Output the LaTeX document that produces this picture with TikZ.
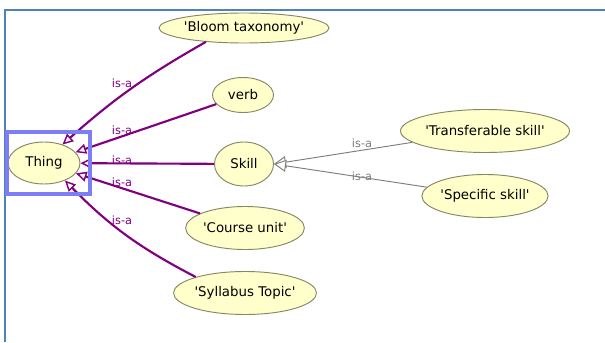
\documentclass[tikz,border=0pt]{standalone}
\usepackage{fontspec}
\setmainfont{DejaVu Sans}[Ligatures=TeXOff]
\usetikzlibrary{shapes.geometric,arrows.meta}
\definecolor{framecol}{RGB}{79,129,189}
\definecolor{nodefill}{RGB}{255,255,204}
\definecolor{nodeline}{RGB}{135,135,100}
\definecolor{isapurple}{RGB}{128,0,128}
\definecolor{isagray}{RGB}{125,125,125}
\definecolor{hlcol}{RGB}{125,125,245}
\tikzset{
  cls/.style={ellipse, draw=nodeline, line width=0.7pt, fill=nodefill, inner sep=0pt, font=\fontsize{10}{12}\selectfont},
  isaedge/.style={draw=isapurple, line width=1.6pt, -{Triangle[open, length=8pt, width=7.5pt, line width=1.1pt]}},
  subedge/.style={draw=isagray, line width=0.7pt, -{Triangle[open, length=9pt, width=9pt, fill=white]}},
  isalab/.style={text=isapurple, font=\fontsize{8.5}{10}\selectfont, inner sep=0pt},
  sublab/.style={text=isagray, font=\fontsize{8.5}{10}\selectfont, inner sep=0pt},
}
\begin{document}
\begin{tikzpicture}[x=0.75pt, y=-0.75pt]
\useasboundingbox (0,0) rectangle (605,342);
\fill[white] (0,0) rectangle (605,342);
% frame
\draw[framecol, line width=1.5pt] (5,342) -- (5,10) -- (605,10);
% nodes
\node[cls, minimum width=54pt, minimum height=31.5pt] (thing) at (44,163) {Thing};
\node[cls, minimum width=118.5pt, minimum height=22.5pt] (bloom) at (244,28) {'Bloom taxonomy'};
\node[cls, minimum width=45.75pt, minimum height=26.25pt] (verb) at (243,95) {verb};
\node[cls, minimum width=44.25pt, minimum height=33pt] (skill) at (244,164) {Skill};
\node[cls, minimum width=117.75pt, minimum height=32.25pt] (trans) at (485,131) {'Transferable skill'};
\node[cls, minimum width=94.5pt, minimum height=32.25pt] (spec) at (485,196) {'Specific skill'};
\node[cls, minimum width=88.5pt, minimum height=32.25pt] (course) at (245,228) {'Course unit'};
\node[cls, minimum width=107.25pt, minimum height=32.25pt] (syll) at (245,293) {'Syllabus Topic'};
% is-a edges to Thing
\draw[isaedge] (bloom.200) to[bend right=6] (thing.45);
\draw[isaedge] (verb) -- (thing);
\draw[isaedge] (skill) -- (thing);
\draw[isaedge] (course) -- (thing);
\draw[isaedge] (syll.162) to[bend left=9] (thing.-40);
% is-a edges to Skill
\draw[subedge] (trans) -- (skill.east);
\draw[subedge] (spec) -- (skill.east);
% labels
\node[isalab] (l1) at (122,83) {is-a};
\node[isalab] (l2) at (122,130) {is-a};
\node[isalab] (l3) at (122,160) {is-a};
\node[isalab] (l4) at (122,182) {is-a};
\node[isalab] (l5) at (122,220) {is-a};
\node[sublab] (l6) at (362,143) {is-a};
\node[sublab] (l7) at (362,176) {is-a};
% highlight of selected class
\node[draw=hlcol, line width=2.3pt, minimum width=62.25pt, minimum height=46.5pt, inner sep=0pt] (hl) at (48.5,163) {};
\end{tikzpicture}
\end{document}
